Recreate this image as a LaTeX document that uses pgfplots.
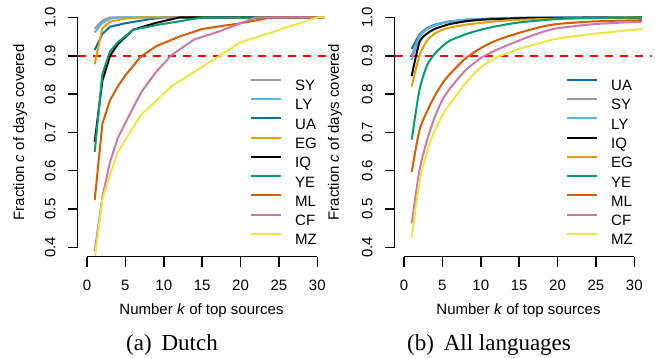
\documentclass[border=0pt]{standalone}
\usepackage{fontspec}
\setmainfont{Liberation Serif}
\setsansfont{Liberation Sans}
\usepackage{pgfplots}
\pgfplotsset{compat=1.18}
\definecolor{oiGray}{HTML}{999999}
\definecolor{oiSky}{HTML}{56B4E9}
\definecolor{oiBlue}{HTML}{0072B2}
\definecolor{oiOrange}{HTML}{E69F00}
\definecolor{oiGreen}{HTML}{009E73}
\definecolor{oiVerm}{HTML}{D55E00}
\definecolor{oiPink}{HTML}{CC79A7}
\definecolor{oiYellow}{HTML}{F0E442}
\newcommand{\lsf}{\fontsize{15}{15}\selectfont\sffamily}
\pgfplotsset{
  myax/.style={
    scale only axis, width=257pt, height=248.2pt,
    xmin=-1.24, xmax=32.24, ymin=0.376, ymax=1.024,
    axis x line*=bottom, axis y line*=left,
    x axis line style={draw=none}, y axis line style={draw=none},
    xtick={0,5,10,15,20,25,30}, ytick={0.4,0.5,0.6,0.7,0.8,0.9,1.0},
    tick align=outside, major tick length=10pt,
    tick style={black, line width=1.5pt},
    clip mode=individual,
    /pgf/number format/assume math mode=true,
    tick label style={font=\lsf},
    xticklabel style={anchor=north, yshift=-10pt},
    yticklabel style={rotate=90, anchor=south, yshift=8.5pt,
      /pgf/number format/fixed, /pgf/number format/fixed zerofill, /pgf/number format/precision=1},
    xlabel={Number \textit{k} of top sources},
    every axis x label/.style={at={(axis description cs:0.4825,-0.2317)}, anchor=base, font=\lsf},
    ylabel={Fraction \textit{c} of days covered},
    legend cell align=left,
    legend style={draw=none, fill=none, anchor=north west, row sep=7.4pt,
      nodes={inner sep=0pt, text height=11pt, text depth=0pt, font=\lsf}},
    legend image code/.code={\draw[##1] (0pt,5.4pt) -- (30pt,5.4pt); \path (43pt,0pt);},
    every axis plot/.append style={line width=2pt, line join=round},
  }
}
\begin{document}
\begin{tikzpicture}
\useasboundingbox (0pt,0pt) rectangle (655pt,-358pt);
% ---------------- (a) Dutch
\begin{axis}[myax, at={(77.5pt,-256.5pt)}, anchor=south west,
  every axis y label/.style={at={(axis description cs:-0.208,0.5)}, rotate=90, anchor=base, font=\lsf},
  legend style={at={(axis description cs:0.6595,0.7255)}}]
\addplot[red, line width=1.8pt, dash pattern=on 8pt off 7pt, forget plot] coordinates {(-1.24,0.9) (32.24,0.9)};
\addplot[oiGray] coordinates {(1,0.971)(2,0.992)(3,1.0)(31,1.0)};
\addlegendentry{SY}
\addplot[oiSky] coordinates {(1,0.961)(2,0.986)(3,0.997)(4,1.0)(31,1.0)};
\addlegendentry{LY}
\addplot[oiBlue] coordinates {(1,0.915)(2,0.957)(3,0.976)(5,0.985)(8,0.995)(10,1.0)(31,1.0)};
\addlegendentry{UA}
\addplot[oiOrange] coordinates {(1,0.878)(2,0.972)(3,0.989)(5,0.997)(7,1.0)(31,1.0)};
\addlegendentry{EG}
\addplot[black] coordinates {(1,0.675)(2,0.835)(3,0.9)(4,0.93)(6,0.968)(9,0.986)(12,1.0)(31,1.0)};
\addlegendentry{IQ}
\addplot[oiGreen] coordinates {(1,0.649)(2,0.852)(3,0.912)(4,0.935)(6,0.968)(9,0.98)(12,0.99)(15,1.0)(31,1.0)};
\addlegendentry{YE}
\addplot[oiVerm] coordinates {(1,0.523)(2,0.722)(3,0.784)(4,0.82)(5,0.849)(7,0.898)(9,0.925)(12,0.95)(15,0.97)(20,0.985)(24,1.0)(31,1.0)};
\addlegendentry{ML}
\addplot[oiPink] coordinates {(1,0.39)(2,0.532)(3,0.623)(4,0.685)(5,0.725)(7,0.803)(9,0.858)(11,0.902)(14,0.943)(17,0.962)(22,1.0)(31,1.0)};
\addlegendentry{CF}
\addplot[oiYellow] coordinates {(1,0.37)(2,0.525)(3,0.59)(4,0.648)(7,0.745)(11,0.82)(20,0.935)(30,1.0)(31,1.0)};
\addlegendentry{MZ}
\draw[line width=1.5pt] (axis cs:0,0.376) -- (axis cs:30,0.376);
\draw[line width=1.5pt] (axis cs:-1.24,0.4) -- (axis cs:-1.24,1.0);
\end{axis}
% ---------------- (b) All languages
\begin{axis}[myax, at={(394.5pt,-256.5pt)}, anchor=south west,
  every axis y label/.style={at={(axis description cs:-0.216,0.5)}, rotate=90, anchor=base, font=\lsf},
  legend style={at={(axis description cs:0.6555,0.7255)}},
  every axis plot/.append style={smooth, tension=0.4}]
\addplot[red, line width=1.8pt, dash pattern=on 8pt off 7pt, forget plot, sharp plot] coordinates {(-1.24,0.9) (32.24,0.9)};
\addplot[oiBlue] coordinates {(1,0.918)(2,0.955)(3,0.972)(4,0.981)(5,0.986)(6,0.99)(8,0.994)(10,0.996)(15,0.999)(20,1.0)(31,1.0)};
\addlegendentry{UA}
\addplot[oiGray] coordinates {(1,0.90)(2,0.952)(3,0.97)(4,0.979)(5,0.985)(6,0.989)(8,0.994)(10,0.996)(15,0.999)(20,1.0)(31,1.0)};
\addlegendentry{SY}
\addplot[oiSky] coordinates {(1,0.889)(2,0.948)(3,0.969)(4,0.979)(5,0.985)(6,0.989)(8,0.994)(10,0.996)(15,0.999)(20,1.0)(31,1.0)};
\addlegendentry{LY}
\addplot[black] coordinates {(1,0.847)(2,0.935)(3,0.958)(4,0.97)(5,0.977)(6,0.983)(8,0.99)(10,0.994)(12,0.996)(15,0.998)(20,0.999)(31,1.0)};
\addlegendentry{IQ}
\addplot[oiOrange] coordinates {(1,0.82)(2,0.90)(3,0.94)(4,0.958)(5,0.968)(6,0.974)(8,0.981)(10,0.986)(12,0.99)(15,0.994)(20,0.997)(25,0.999)(31,1.0)};
\addlegendentry{EG}
\addplot[oiGreen] coordinates {(1,0.681)(2,0.81)(3,0.875)(4,0.905)(5,0.925)(6,0.94)(8,0.956)(10,0.968)(12,0.977)(15,0.987)(20,0.996)(25,0.999)(31,1.0)};
\addlegendentry{YE}
\addplot[oiVerm] coordinates {(1,0.597)(2,0.705)(3,0.755)(4,0.795)(5,0.828)(6,0.853)(8,0.893)(10,0.92)(12,0.94)(15,0.96)(18,0.976)(20,0.983)(25,0.99)(31,0.993)};
\addlegendentry{ML}
\addplot[oiPink] coordinates {(1,0.462)(2,0.6)(3,0.68)(4,0.74)(5,0.785)(6,0.815)(8,0.862)(10,0.894)(12,0.915)(15,0.94)(18,0.962)(20,0.972)(25,0.983)(31,0.989)};
\addlegendentry{CF}
\addplot[oiYellow] coordinates {(1,0.426)(2,0.57)(3,0.65)(4,0.705)(5,0.745)(6,0.775)(8,0.828)(10,0.87)(12,0.895)(15,0.918)(18,0.935)(20,0.945)(25,0.958)(31,0.97)};
\addlegendentry{MZ}
\draw[line width=1.5pt] (axis cs:0,0.376) -- (axis cs:30,0.376);
\draw[line width=1.5pt] (axis cs:-1.24,0.4) -- (axis cs:-1.24,1.0);
\end{axis}
\node[anchor=base, font=\fontsize{23}{23}\selectfont] at (172pt,-350.5pt) {(a)\hspace{0.43em}Dutch};
\node[anchor=base, font=\fontsize{23}{23}\selectfont] at (489pt,-350.5pt) {(b)\hspace{0.43em}All languages};
\end{tikzpicture}
\end{document}
